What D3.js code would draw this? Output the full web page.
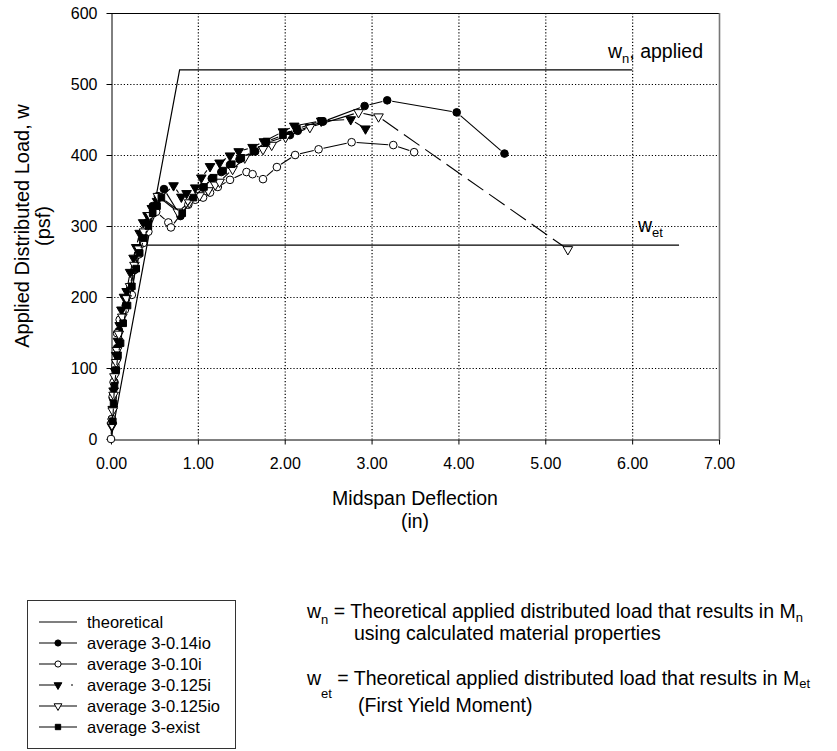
<!DOCTYPE html>
<html>
<head>
<meta charset="utf-8">
<script src="https://cdn.jsdelivr.net/npm/d3@7"></script>
<style>
  html, body { margin: 0; padding: 0; background: #fff; }
  svg { display: block; }
  svg text { font-family: "Liberation Sans", Arial, Helvetica, sans-serif; fill: #000; }
</style>
</head>
<body>
<svg id="chart" width="837" height="751"></svg>
<script>
// Axis ticks
const xTickValues = [0, 1, 2, 3, 4, 5, 6, 7];
const yTickValues = [0, 100, 200, 300, 400, 500, 600];

// Theoretical response: linear rise to w_n, then plateau
const theoX = [0, 0.79, 6.00];
const theoY = [0, 520, 520];
// First-yield load level w_et
const wetX = [0.415, 6.54];
const wetY = [273, 273];

// average 3-0.14io (filled circles)
const s014ioX = [0.01, 0.02, 0.04, 0.05, 0.07, 0.09, 0.12, 0.17, 0.22, 0.27, 0.31, 0.36, 0.42, 0.48, 0.54, 0.61, 0.80, 0.94, 1.06, 1.16, 1.27, 1.37, 1.48, 1.66, 1.79, 2.06, 2.15, 2.44, 2.92, 3.18, 3.98, 4.53];
const s014ioY = [28, 58, 80, 100, 128, 152, 168, 188, 212, 238, 260, 282, 305, 328, 342, 352, 314, 338, 354, 367, 376, 386, 394, 405, 417, 428, 434, 447, 469, 477, 460, 402];

// average 3-0.10i (open circles)
const s010iX = [0, 0.01, 0.02, 0.03, 0.05, 0.07, 0.10, 0.16, 0.24, 0.28, 0.32, 0.37, 0.43, 0.52, 0.66, 0.69, 0.89, 0.97, 1.06, 1.14, 1.23, 1.37, 1.56, 1.63, 1.75, 1.91, 2.12, 2.39, 2.77, 3.25, 3.49];
const s010iY = [0, 28, 60, 80, 104, 149, 168, 182, 203, 240, 260, 276, 292, 320, 305, 298, 330, 337, 340, 347, 355, 365, 376, 373, 366, 383, 400, 408, 418, 414, 404];

// average 3-0.125i (filled triangles)
const s0125iX = [0.01, 0.02, 0.03, 0.05, 0.06, 0.08, 0.10, 0.12, 0.15, 0.18, 0.22, 0.26, 0.29, 0.33, 0.37, 0.42, 0.47, 0.53, 0.72, 0.81, 0.87, 0.97, 1.04, 1.14, 1.25, 1.37, 1.47, 1.63, 1.76, 1.98, 2.11, 2.42, 2.76, 2.93];
const s0125iY = [18, 42, 68, 95, 118, 138, 160, 182, 200, 208, 235, 255, 270, 290, 305, 315, 325, 335, 357, 341, 346, 354, 368, 384, 389, 399, 405, 411, 419, 433, 441, 448, 450, 437];

// average 3-0.125io (open triangles); last reading joined by a dashed segment
const s0125ioX = [0.01, 0.02, 0.03, 0.04, 0.06, 0.07, 0.09, 0.13, 0.18, 0.22, 0.27, 0.32, 0.38, 0.45, 0.54, 0.77, 0.90, 1.02, 1.12, 1.20, 1.25, 1.40, 1.54, 1.75, 1.85, 2.01, 2.29, 2.85, 3.08, 5.26];
const s0125ioY = [20, 40, 62, 88, 108, 125, 148, 172, 198, 215, 245, 268, 292, 315, 342, 320, 333, 343, 350, 358, 362, 380, 396, 408, 414, 425, 439, 460, 454, 267];

// average 3-exist (filled squares)
const sExistX = [0.02, 0.03, 0.04, 0.06, 0.08, 0.11, 0.14, 0.19, 0.24, 0.29, 0.33, 0.38, 0.43, 0.48, 0.53, 0.58, 0.82, 0.95, 1.07, 1.18, 1.29, 1.39, 1.50, 1.64, 1.79, 1.98, 2.14, 2.42];
const sExistY = [25, 50, 75, 97, 118, 135, 163, 188, 215, 240, 262, 283, 300, 318, 328, 340, 318, 340, 355, 368, 378, 387, 396, 405, 419, 428, 437, 448];

const seriesNames = ["theoretical", "average 3-0.14io", "average 3-0.10i", "average 3-0.125i", "average 3-0.125io", "average 3-exist"];

const svg = d3.select("#chart");

const x = d3.scaleLinear().domain([0, 7]).range([111, 719]);
const y = d3.scaleLinear().domain([0, 600]).range([439, 13]);

// Dotted grid
const grid = svg.append("g");
grid.selectAll("line.gx").data(xTickValues.slice(1, -1)).join("line")
  .attr("x1", d => x(d) + 0.5).attr("x2", d => x(d) + 0.5)
  .attr("y1", y(600)).attr("y2", y(0))
  .attr("stroke", "#000").attr("stroke-width", 1.2).attr("stroke-dasharray", "1.2,2");
grid.selectAll("line.gy").data(yTickValues.slice(1, -1)).join("line")
  .attr("y1", d => y(d) + 0.5).attr("y2", d => y(d) + 0.5)
  .attr("x1", x(0)).attr("x2", x(7))
  .attr("stroke", "#000").attr("stroke-width", 1.2).attr("stroke-dasharray", "1.2,2");

// Frame: top and right edges
svg.append("line").attr("x1", x(0)).attr("x2", x(7)).attr("y1", y(600) + 0.5).attr("y2", y(600) + 0.5)
  .attr("stroke", "#000").attr("stroke-width", 1);
svg.append("line").attr("x1", x(7) + 0.5).attr("x2", x(7) + 0.5).attr("y1", y(600)).attr("y2", y(0))
  .attr("stroke", "#777").attr("stroke-width", 1.6);

// Axes with minor ticks
const xMinor = d3.range(0, 7.001, 0.2).filter(v => Math.abs(v - Math.round(v)) > 1e-6);
const yMinor = d3.range(0, 600.1, 20).filter(v => v % 100 !== 0);

const gx = svg.append("g").attr("transform", `translate(0,${y(0) + 0.5})`);
gx.call(d3.axisBottom(x).tickValues(xMinor).tickSize(3.5).tickSizeOuter(0).tickFormat(""));
gx.call(d3.axisBottom(x).tickValues(xTickValues).tickSize(5).tickSizeOuter(0).tickPadding(13).tickFormat(d3.format(".2f")));

const gy = svg.append("g").attr("transform", `translate(${x(0) + 0.5},0)`);
gy.call(d3.axisLeft(y).tickValues(yMinor).tickSize(3).tickSizeOuter(0).tickFormat(""));
gy.call(d3.axisLeft(y).tickValues(yTickValues).tickSize(5).tickSizeOuter(0).tickPadding(9));

svg.selectAll(".tick text").attr("font-size", 16).attr("font-family", null);
svg.selectAll(".domain, .tick line").attr("stroke", "#000");

// Axis titles
svg.append("text").attr("transform", `translate(${29},${226}) rotate(-90)`)
  .attr("text-anchor", "middle").attr("font-size", 20).text("Applied Distributed Load, w");
svg.append("text").attr("transform", `translate(${50},${226}) rotate(-90)`)
  .attr("text-anchor", "middle").attr("font-size", 20).text("(psf)");
svg.append("text").attr("x", 415).attr("y", 505).attr("text-anchor", "middle")
  .attr("font-size", 19.5).text("Midspan Deflection");
svg.append("text").attr("x", 415).attr("y", 528).attr("text-anchor", "middle")
  .attr("font-size", 19.5).text("(in)");

// Theoretical lines
const line = d3.line().x(d => x(d[0])).y(d => y(d[1]));
svg.append("path").datum(d3.zip(theoX, theoY)).attr("d", line)
  .attr("fill", "none").attr("stroke", "#000").attr("stroke-width", 1.2);
svg.append("path").datum(d3.zip(wetX, wetY)).attr("d", line)
  .attr("fill", "none").attr("stroke", "#000").attr("stroke-width", 1.2);

// Reference labels
const lblN = svg.append("text").attr("x", 608).attr("y", 58).attr("font-size", 19.5);
lblN.append("tspan").text("w");
lblN.append("tspan").attr("dy", 5).attr("font-size", 13).text("n");
lblN.append("tspan").attr("dy", -5).text(", applied");

const lblEt = svg.append("text").attr("x", 638).attr("y", 232).attr("font-size", 19.5);
lblEt.append("tspan").text("w");
lblEt.append("tspan").attr("dy", 5).attr("font-size", 13).text("et");

// Marker shapes
const symCircle = s => d3.symbol().type(d3.symbolCircle).size(s)();
const symTri = s => d3.symbol().type(d3.symbolTriangle).size(s)();
const symSquare = s => d3.symbol().type(d3.symbolSquare).size(s)();

const seriesDefs = [
  { name: seriesNames[1], xs: s014ioX, ys: s014ioY, path: symCircle, size: 46, fill: "#000", rot: 0, dash: null },
  { name: seriesNames[2], xs: s010iX, ys: s010iY, path: symCircle, size: 46, fill: "#fff", rot: 0, dash: null },
  { name: seriesNames[3], xs: s0125iX, ys: s0125iY, path: symTri, size: 40, fill: "#000", rot: 180, dash: "18,14,2,4" },
  { name: seriesNames[4], xs: s0125ioX, ys: s0125ioY, path: symTri, size: 40, fill: "#fff", rot: 180, dash: null, lastDash: "19,7" },
  { name: seriesNames[5], xs: sExistX, ys: sExistY, path: symSquare, size: 44, fill: "#000", rot: 0, dash: null }
];

// Line segments stop short of each marker
function gappedSegments(pts, gap) {
  const segs = [];
  for (let i = 0; i < pts.length - 1; i++) {
    const x0 = x(pts[i][0]), y0 = y(pts[i][1]);
    const x1 = x(pts[i + 1][0]), y1 = y(pts[i + 1][1]);
    const dx = x1 - x0, dy = y1 - y0, len = Math.hypot(dx, dy);
    if (len <= 2 * gap) continue;
    const ux = dx / len, uy = dy / len;
    segs.push({ i, x1: x0 + ux * gap, y1: y0 + uy * gap, x2: x1 - ux * gap, y2: y1 - uy * gap });
  }
  return segs;
}

seriesDefs.forEach(s => {
  const pts = d3.zip(s.xs, s.ys);
  const g = svg.append("g");
  const segs = gappedSegments(pts, 5);
  g.selectAll("line").data(segs).join("line")
    .attr("x1", d => d.x1).attr("y1", d => d.y1).attr("x2", d => d.x2).attr("y2", d => d.y2)
    .attr("stroke", "#000").attr("stroke-width", 1.1)
    .attr("stroke-dasharray", d => (s.lastDash && d.i === pts.length - 2) ? s.lastDash : s.dash);
  g.selectAll("path").data(pts).join("path")
    .attr("d", s.path(s.size))
    .attr("transform", d => `translate(${x(d[0])},${y(d[1])}) rotate(${s.rot})`)
    .attr("fill", s.fill).attr("stroke", "#000").attr("stroke-width", 1);
});

// Legend
const leg = svg.append("g");
leg.append("rect").attr("x", 27.5).attr("y", 600.5).attr("width", 208).attr("height", 148)
  .attr("fill", "#fff").attr("stroke", "#333").attr("stroke-width", 1);
const rowY = i => 622 + i * 21;
const legendDefs = [{ name: seriesNames[0], path: null, dash: null }].concat(seriesDefs);
legendDefs.forEach((s, i) => {
  const cy = rowY(i);
  leg.append("line").attr("x1", 39).attr("x2", 77).attr("y1", cy).attr("y2", cy)
    .attr("stroke", "#000").attr("stroke-width", 1.1).attr("stroke-dasharray", s.dash);
  if (s.path) {
    leg.append("path").attr("d", s.path(s.size * 0.65))
      .attr("transform", `translate(58,${cy}) rotate(${s.rot})`)
      .attr("fill", s.fill).attr("stroke", "#000").attr("stroke-width", 1);
  }
  leg.append("text").attr("x", 87).attr("y", cy + 6).attr("font-size", 16.5).text(s.name);
});

// Notes on the reference loads
const n1 = svg.append("text").attr("x", 307).attr("y", 618).attr("font-size", 19.5);
n1.append("tspan").text("w");
n1.append("tspan").attr("dy", 6).attr("font-size", 13).text("n");
n1.append("tspan").attr("dy", -6).text(" = Theoretical applied distributed load that results in M");
n1.append("tspan").attr("dy", 4).attr("font-size", 13).text("n");
svg.append("text").attr("x", 354).attr("y", 640).attr("font-size", 19.5)
  .text("using calculated material properties");

const n2 = svg.append("text").attr("x", 307).attr("y", 685).attr("font-size", 19.5);
n2.append("tspan").text("w");
n2.append("tspan").attr("dy", 13).attr("font-size", 13).text("et");
n2.append("tspan").attr("dy", -13).text(" = Theoretical applied distributed load that results in M");
n2.append("tspan").attr("dy", 3).attr("font-size", 13).text("et");
svg.append("text").attr("x", 358).attr("y", 712).attr("font-size", 19.5)
  .text("(First Yield Moment)");
</script>
</body>
</html>
